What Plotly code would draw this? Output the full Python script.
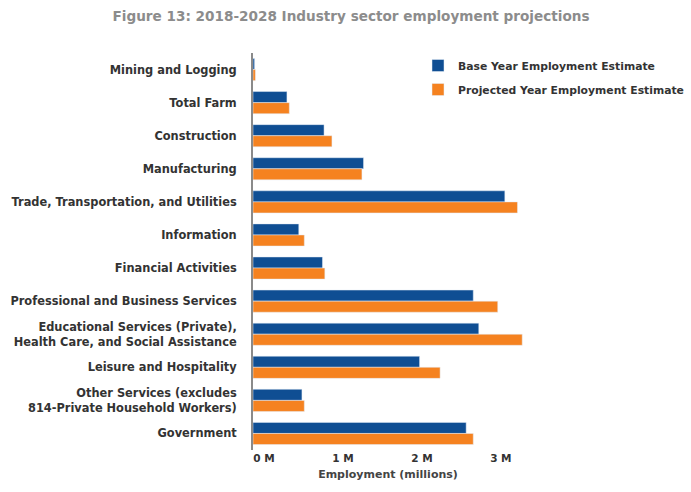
import plotly.graph_objects as go

categories = [
    "Mining and Logging",
    "Total Farm",
    "Construction",
    "Manufacturing",
    "Trade, Transportation, and Utilities",
    "Information",
    "Financial Activities",
    "Professional and Business Services",
    "Educational Services (Private),<br>Health Care, and Social Assistance",
    "Leisure and Hospitality",
    "Other Services (excludes<br>814-Private Household Workers)",
    "Government",
]
base_year = [0.02, 0.43, 0.90, 1.40, 3.19, 0.58, 0.88, 2.79, 2.86, 2.11, 0.62, 2.70]
projected_year = [0.03, 0.46, 1.00, 1.38, 3.35, 0.65, 0.91, 3.10, 3.41, 2.37, 0.65, 2.79]
tick_values = [0, 1, 2, 3]
tick_labels = ["0 M", "1 M", "2 M", "3 M"]

FONT = "DejaVu Sans"

fig = go.Figure()
fig.add_trace(go.Bar(
    y=categories, x=base_year, orientation="h",
    name="Base Year Employment Estimate",
    marker=dict(color="#0F4E93"), legendgroup="a",
))
fig.add_trace(go.Bar(
    y=categories, x=projected_year, orientation="h",
    name="Projected Year Employment Estimate",
    marker=dict(color="#F58220"), legendgroup="b",
))

fig.update_layout(
    width=691, height=492,
    margin=dict(l=253, r=168, t=53, b=42, autoexpand=False),
    paper_bgcolor="white", plot_bgcolor="white",
    barmode="group", bargap=0.33, bargroupgap=0,
    title=dict(
        text="Figure 13: 2018-2028 Industry sector employment projections",
        x=0.508, xanchor="center", y=0.967, yanchor="middle",
        font=dict(family=FONT, size=13.6, color="#8C8C8C", weight="bold"),
    ),
    legend=dict(
        xref="container", yref="container",
        x=418 / 691, xanchor="left", y=1 - 51 / 492, yanchor="top",
        traceorder="grouped", tracegroupgap=5,
        font=dict(family=FONT, size=10.8, color="#333333", weight="bold"),
        bgcolor="rgba(0,0,0,0)",
    ),
    xaxis=dict(
        range=[0, 3.42], tickvals=tick_values, ticktext=tick_labels,
        showgrid=False, zeroline=False, showline=False, ticks="",
        ticklabelshift=11,
        tickfont=dict(family=FONT, size=10.5, color="#333333", weight="bold"),
        title=dict(text="Employment (millions)", standoff=7,
                   font=dict(family=FONT, size=11, color="#444444", weight="bold")),
    ),
    yaxis=dict(
        autorange="reversed", showgrid=False, zeroline=False,
        showline=True, linecolor="#8A8A8A", linewidth=2, ticks="",
        ticklabelstandoff=12,
        tickfont=dict(family=FONT, size=11.4, color="#333333", weight="bold"),
    ),
)

fig.write_html("out.html")
